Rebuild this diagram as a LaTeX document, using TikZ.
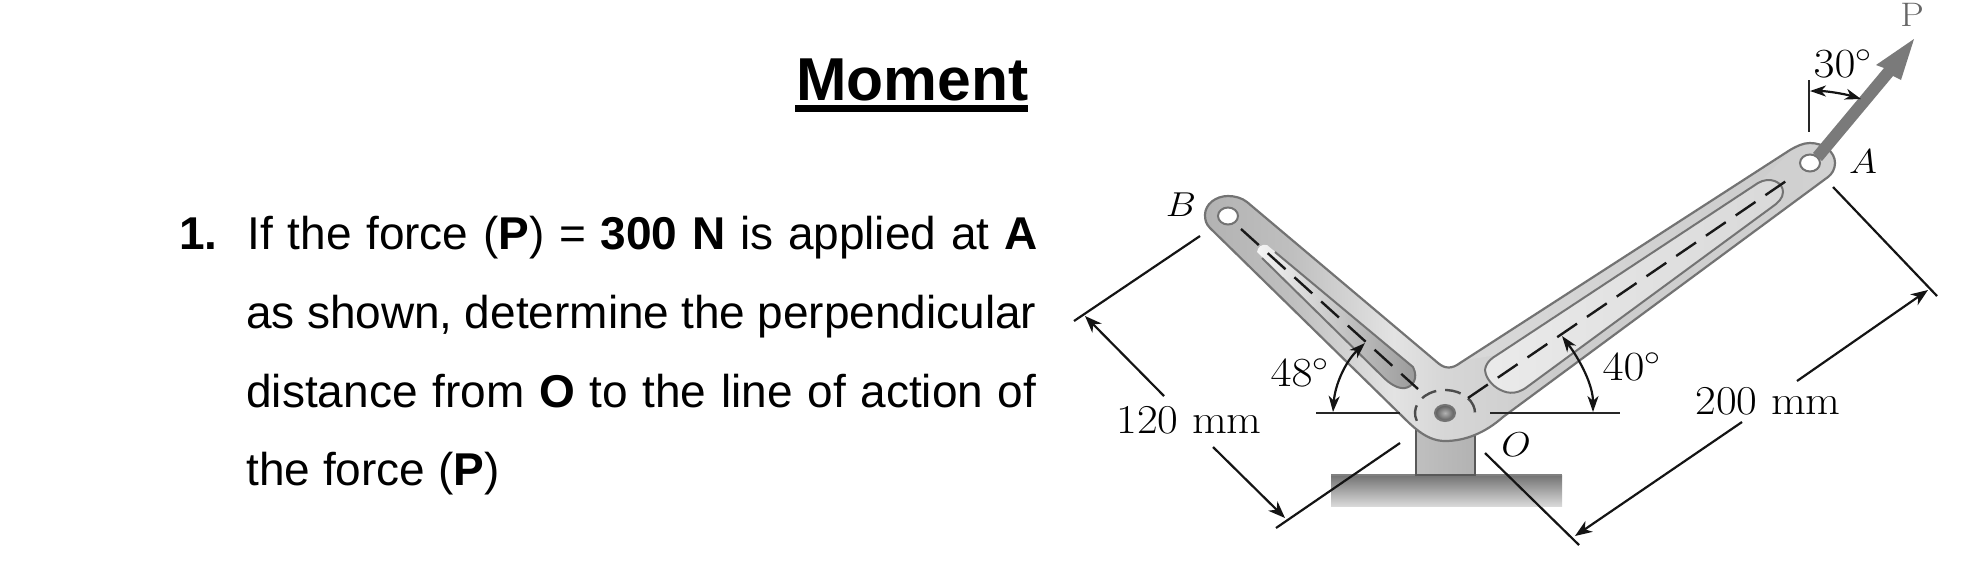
\documentclass[tikz,border=0pt]{standalone}
\usepackage{fontspec}
\newfontfamily\arialf{Liberation Sans}
\usetikzlibrary{arrows.meta}
\pgfdeclarehorizontalshading{armshade}{100bp}{color(0bp)=(black!28); color(25bp)=(black!30); color(32bp)=(black!25); color(40bp)=(black!11); color(44bp)=(black!16); color(53bp)=(black!20); color(75bp)=(black!18); color(100bp)=(black!18)}
\newcommand{\wideserif}[1]{\scalebox{1.1}[1]{#1}}
\tikzset{
  dimline/.style={line width=1.1pt,black!92},
  refline/.style={line width=1.3pt,black!85},
  dimarrow/.style={dimline,-{Stealth[length=8.5pt,width=6.5pt,inset=2.6pt]}},
  bothends/.style={dimline,{Stealth[length=8pt,width=5.5pt,inset=2.4pt]}-{Stealth[length=8pt,width=5.5pt,inset=2.4pt]}},
  edgeline/.style={draw=black!55,line width=1pt},
  centreline/.style={line width=1.2pt,black!90,dash pattern=on 12pt off 6pt},
  holeshape/.style={fill=white,draw=black!55,line width=1pt},
  figlabel/.style={inner sep=0pt,font=\fontsize{20.5}{20.5}\selectfont,black},
  pointlabel/.style={inner sep=0pt,font=\fontsize{17}{17}\selectfont,black},
  plainline/.style={anchor=base west,inner sep=0pt,font=\arialf\fontsize{23}{23}\selectfont}
}
\begin{document}
\begin{tikzpicture}[x=0.5pt,y=-0.5pt]
\useasboundingbox (0,0) rectangle (1977,575);
% text
\node[anchor=base west,inner sep=0pt,font=\arialf\bfseries\fontsize{30.3}{30.3}\selectfont] (title) at (796,100) {Moment};
\fill[black] (795,105) rectangle (1028,112);
\node[plainline] (num) at (179,249) {\textbf{1.}};
\node[plainline] (l1) at (247,249) {\hbox to 395pt{If the force (\textbf{P}) = \textbf{300 N} is applied at \textbf{A}}};
\node[plainline] (l2) at (246,328) {\hbox to 395pt{as shown, determine the perpendicular}};
\node[plainline] (l3) at (246,407) {\hbox to 395pt{distance from \textbf{O} to the line of action of}};
\node[plainline] (l4) at (246,485) {the force (\textbf{P})};
% base and post
\shade[top color=black!55,bottom color=black!15] (1331,475) rectangle (1562,506);
\draw[black!50,line width=1pt] (1331,475) -- (1562,475);
\shade[shading angle=45,left color=black!25,middle color=black!80,right color=black!30,draw=black!65,line width=1pt] (1416,475) -- (1416,425) -- (1475,425) -- (1475,475) -- cycle;
% arm
\path[shade,shading=armshade] (1247,202) -- (1438,363) .. controls (1445,369) and (1452,369) .. (1460,363) -- (1790,150) .. controls (1797,146) and (1803,143) .. (1810,143) .. controls (1824,143) and (1835,152) .. (1835,163) .. controls (1835,169) and (1832,174) .. (1828,177) -- (1503,417) .. controls (1485,433) and (1465,441) .. (1445,441) .. controls (1428,441) and (1415,429) .. (1403,417) -- (1210,228) .. controls (1206,224) and (1205,220) .. (1205,215) .. controls (1205,204) and (1216,196) .. (1228,196) .. controls (1235,196) and (1242,198) .. (1247,202) -- cycle;
\shade[left color=black!15,middle color=black!34,right color=black!20] (1465,360) -- (1790,152) -- (1758,183) -- (1497,355) -- cycle;
\draw[edgeline,line width=1.1pt] (1247,202) -- (1438,363) .. controls (1445,369) and (1452,369) .. (1460,363) -- (1790,150) .. controls (1797,146) and (1803,143) .. (1810,143) .. controls (1824,143) and (1835,152) .. (1835,163) .. controls (1835,169) and (1832,174) .. (1828,177) -- (1503,417) .. controls (1485,433) and (1465,441) .. (1445,441) .. controls (1428,441) and (1415,429) .. (1403,417) -- (1210,228) .. controls (1206,224) and (1205,220) .. (1205,215) .. controls (1205,204) and (1216,196) .. (1228,196) .. controls (1235,196) and (1242,198) .. (1247,202) -- cycle;
% slots
\shade[left color=black!4,middle color=black!14,right color=black!40] (1257,252) .. controls (1258,247) and (1261,244) .. (1267,245) -- (1413,367) .. controls (1419,379) and (1412,387) .. (1405,388) .. controls (1398,389) and (1390,384) .. (1383,377) -- cycle;
\draw[edgeline] (1275,252) -- (1413,367) .. controls (1419,379) and (1412,387) .. (1405,388) .. controls (1398,389) and (1390,384) .. (1383,377) -- (1262,258);
\path[shade,left color=black!8,middle color=black!24,right color=black!15,draw=black!55,line width=1pt] (1497,355) -- (1758,183) .. controls (1770,176) and (1783,182) .. (1783,192) .. controls (1783,198) and (1778,203) .. (1772,207) -- (1527,387) .. controls (1515,396) and (1505,393) .. (1497,388) .. controls (1488,382) and (1483,372) .. (1486,366) .. controls (1488,361) and (1492,358) .. (1497,355) -- cycle;
% holes
\filldraw[holeshape] (1228,216) circle[x radius=10,y radius=8.5];
\filldraw[holeshape] (1810,163) circle[x radius=10,y radius=8.5];
\shade[inner color=black!30,outer color=black!65,draw=black!55,line width=1pt] (1445,413) circle[x radius=10,y radius=8];
\draw[black!70,line width=1.2pt,dash pattern=on 8pt off 4.5pt] (1445,413) ++(160:30 and 23) arc[start angle=160,end angle=380,x radius=30,y radius=23];
% centre lines
\coordinate (bEnd) at (1241,229);
\coordinate (bPivot) at (1418,389);
\coordinate (aPivot) at (1468,398);
\coordinate (aEnd) at (1792,177);
\draw[centreline] (bEnd) -- (bPivot);
\draw[centreline] (aPivot) -- (aEnd);
% force
\fill[black!52] (1813,153) -- (1884,68) -- (1876,65) -- (1914,39) -- (1901,80) -- (1893,76) -- (1822,161) -- cycle;
% reference lines
\draw[refline] (1316,413) -- (1400,413);
\draw[refline] (1490,413) -- (1620,413);
\draw[refline] (1809,80) -- (1809,132);
% dimension lines
\coordinate (e1a) at (1200,236); \coordinate (e1b) at (1074,321);
\coordinate (e2a) at (1400,443); \coordinate (e2b) at (1276,528);
\coordinate (e3a) at (1833,187); \coordinate (e3b) at (1937,296);
\coordinate (e4a) at (1485,453); \coordinate (e4b) at (1579,545);
\draw[dimline] (e1a) -- (e1b);
\draw[dimline] (e2a) -- (e2b);
\draw[dimline] (e3a) -- (e3b);
\draw[dimline] (e4a) -- (e4b);
\coordinate (d1a) at (1164,396); \coordinate (d1b) at (1085,316);
\coordinate (d2a) at (1213,447); \coordinate (d2b) at (1285,518);
\coordinate (d3a) at (1797,381); \coordinate (d3b) at (1928,290);
\coordinate (d4a) at (1742,422); \coordinate (d4b) at (1575,536);
\draw[dimarrow] (d1a) -- (d1b);
\draw[dimarrow] (d2a) -- (d2b);
\draw[dimarrow] (d3a) -- (d3b);
\draw[dimarrow] (d4a) -- (d4b);
\coordinate (a48a) at (1365,343); \coordinate (a48b) at (1333,412);
\coordinate (a40a) at (1562,336); \coordinate (a40b) at (1593,412);
\coordinate (a30a) at (1810,91); \coordinate (a30b) at (1861,99);
\draw[bothends] (a48a) .. controls (1345,362) and (1335,385) .. (a48b);
\draw[bothends] (a40a) .. controls (1580,360) and (1593,385) .. (a40b);
\draw[bothends] (a30a) .. controls (1827,91) and (1845,94) .. (a30b);
% labels
\node[pointlabel] (lb) at (1181,205) {\wideserif{$B$}};
\node[pointlabel] (la) at (1863,162) {\wideserif{$A$}};
\node[pointlabel] (lo) at (1516,445) {\wideserif{$O$}};
\node[pointlabel,text=black!60] (lp) at (1912,15) {\wideserif{P}};
\node[figlabel] (t48) at (1300,373) {\wideserif{$48^\circ$}};
\node[figlabel] (t40) at (1632,367) {\wideserif{$40^\circ$}};
\node[figlabel] (t30) at (1843,64) {\wideserif{$30^\circ$}};
\node[figlabel] (t120) at (1189,420) {\wideserif{120 mm}};
\node[figlabel] (t200) at (1768,401) {\wideserif{200 mm}};
\end{tikzpicture}
\end{document}
